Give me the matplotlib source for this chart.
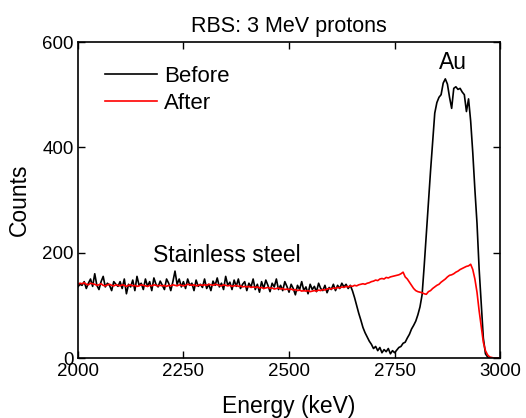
import numpy as np
import matplotlib
matplotlib.use("Agg")
import matplotlib.pyplot as plt

plt.rcParams['font.family'] = ['Liberation Sans', 'DejaVu Sans']

energy_start = 2000
energy_step = 5

before_counts = [
    135,140,138,145,132,142,150,136,160,138,130,145,155,135,142,138,128,145,140,136,
    145,132,150,122,140,135,148,128,155,138,142,130,150,136,145,128,152,140,135,146,
    138,130,150,142,128,145,165,140,150,135,145,132,150,138,142,128,148,136,140,134,
    150,132,140,128,146,138,152,135,142,130,155,138,144,130,148,136,150,132,140,145,
    128,142,135,150,130,140,125,145,132,148,138,126,142,135,150,130,138,128,145,136,
    125,140,132,120,138,130,145,128,135,122,140,130,136,126,142,132,128,138,124,134,
    130,140,128,138,132,142,135,140,132,138,
    128,115,100,85,72,58,48,40,32,26,
    18,22,14,20,10,16,12,18,8,14,
    10,15,20,22,28,30,38,45,55,62,
    70,82,97,120,175,235,295,355,410,465,
    485,495,500,522,530,520,495,474,512,515,
    510,512,505,500,468,492,450,390,320,256,
    170,105,38,8,2,0,0,0,0,0,
    0,
]

after_counts = [
    140,142,141,143,140,139,142,141,140,138,139,141,138,137,139,140,138,137,139,138,
    137,139,138,136,138,139,137,138,136,137,139,138,137,136,138,137,139,138,137,138,
    137,138,136,138,137,139,138,137,139,138,137,138,140,139,138,139,137,138,139,138,
    139,138,140,139,138,140,139,138,137,139,138,137,138,136,137,138,136,137,135,136,
    135,136,134,135,134,135,133,134,132,133,134,132,133,131,132,133,131,132,130,131,
    130,131,129,130,128,129,127,128,127,128,126,127,128,127,129,128,130,129,131,132,
    131,133,132,134,133,135,134,136,135,137,
    136,138,137,139,140,141,140,142,143,145,
    146,148,147,150,151,150,153,152,154,155,
    156,157,158,160,163,154,150,144,138,132,
    128,126,125,124,122,121,126,128,132,135,
    138,140,144,147,150,154,157,158,160,163,
    165,168,170,172,174,175,178,168,150,125,
    90,60,30,14,6,2,1,0,0,0,
    0,
]

energy = energy_start + energy_step * np.arange(len(before_counts))

x_ticks = [2000, 2250, 2500, 2750, 3000]
y_ticks = [0, 200, 400, 600]

fig = plt.figure(figsize=(5.26, 4.18), dpi=100)
ax = fig.add_axes([0.148, 0.1435, 0.803, 0.756])

ax.plot(energy, before_counts, color='black', lw=1.2, label='Before')
ax.plot(energy, after_counts, color='red', lw=1.2, label='After')

ax.set_xlim(2000, 3000)
ax.set_ylim(0, 600)
ax.set_xticks(x_ticks)
ax.set_yticks(y_ticks)
ax.tick_params(direction='in', top=True, right=True, labelsize=13.5, length=5, width=1)
ax.tick_params(axis='x', pad=3.5)
ax.tick_params(axis='y', pad=3)
for s in ax.spines.values():
    s.set_linewidth(1.2)

ax.set_xlabel('Energy (keV)', fontsize=16.5, labelpad=11)
ax.set_ylabel('Counts', fontsize=16.5, labelpad=8)
ax.set_title('RBS: 3 MeV protons', fontsize=15.5, pad=7)

ax.text(2889, 562, 'Au', fontsize=16.5, ha='center', va='center')
ax.text(2352, 194, 'Stainless steel', fontsize=16.5, ha='center', va='center')

leg = ax.legend(loc='upper left', bbox_to_anchor=(0.064, 0.925), frameon=False,
                fontsize=16, handlelength=2.35, handletextpad=0.3, labelspacing=0.29,
                borderaxespad=0, borderpad=0)

fig.savefig('out.png', dpi=100)
